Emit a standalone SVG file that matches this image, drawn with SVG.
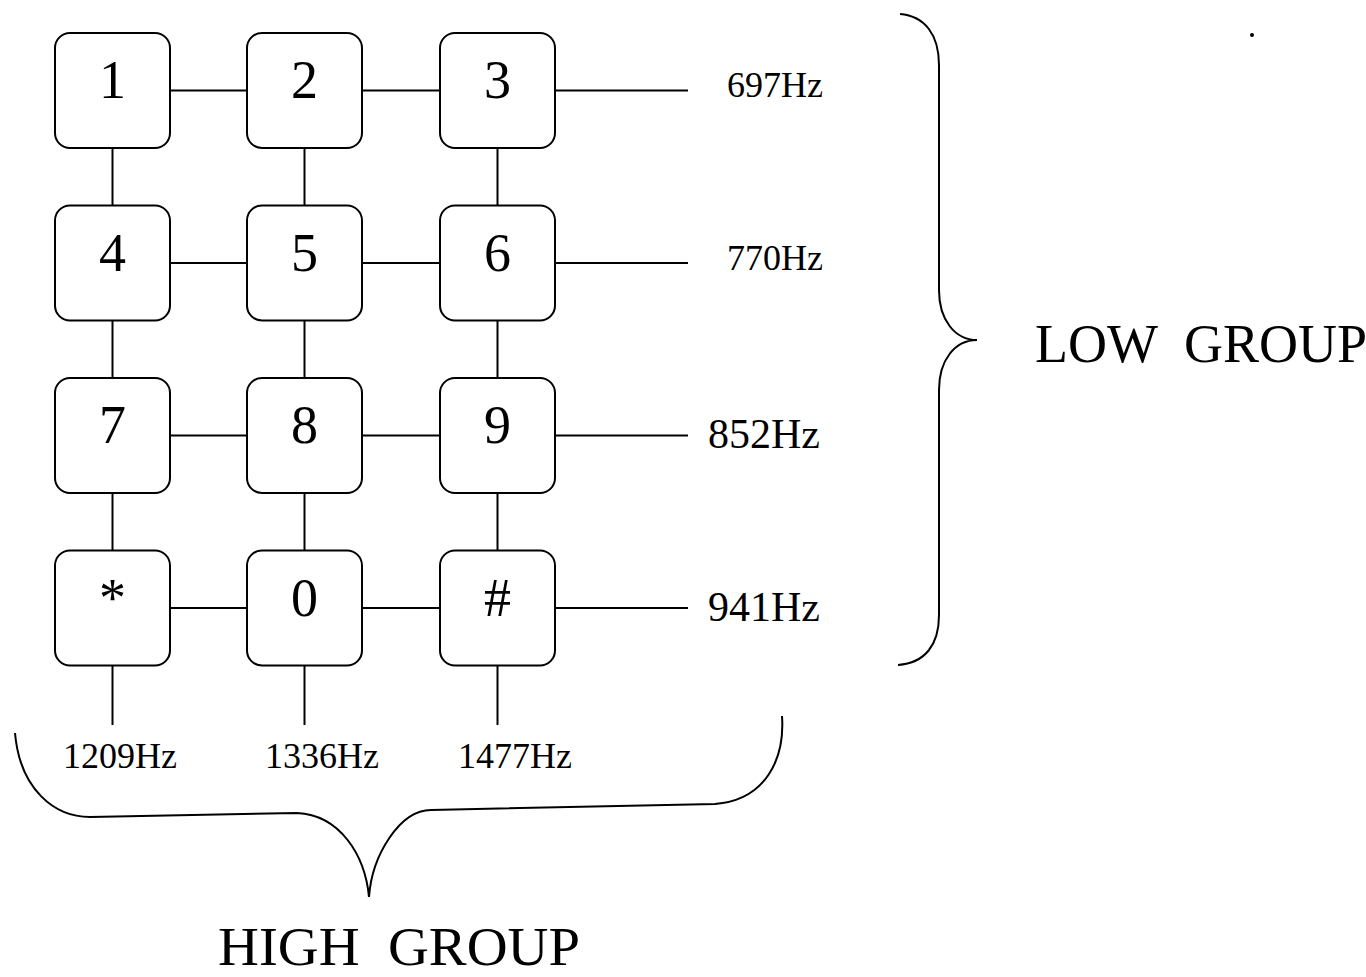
<svg xmlns="http://www.w3.org/2000/svg" width="1366" height="977" viewBox="0 0 1366 977">
<style>
.key rect{fill:#fff;stroke:#000;stroke-width:2}
.key text{font-family:"Liberation Serif","Times New Roman",serif;font-size:54px;text-anchor:middle;fill:#000}
.conn line,.conn path{stroke:#000;stroke-width:2;fill:none}
.lbl{font-family:"Liberation Serif","Times New Roman",serif;fill:#000;white-space:pre}
.s{font-size:36px}
.m{font-size:42px}
.l{font-size:54px}
</style>
<rect width="1366" height="977" fill="#fff"/>
<g id="connectors" class="conn">
<line x1="170" y1="90.5" x2="247" y2="90.5"/><line x1="362" y1="90.5" x2="440" y2="90.5"/><line x1="555" y1="90.5" x2="688" y2="90.5"/>
<line x1="170" y1="263" x2="247" y2="263"/><line x1="362" y1="263" x2="440" y2="263"/><line x1="555" y1="263" x2="688" y2="263"/>
<line x1="170" y1="435.5" x2="247" y2="435.5"/><line x1="362" y1="435.5" x2="440" y2="435.5"/><line x1="555" y1="435.5" x2="688" y2="435.5"/>
<line x1="170" y1="608" x2="247" y2="608"/><line x1="362" y1="608" x2="440" y2="608"/><line x1="555" y1="608" x2="688" y2="608"/>
<line x1="112.5" y1="148" x2="112.5" y2="205.5"/><line x1="304.5" y1="148" x2="304.5" y2="205.5"/><line x1="497.5" y1="148" x2="497.5" y2="205.5"/>
<line x1="112.5" y1="320.5" x2="112.5" y2="378"/><line x1="304.5" y1="320.5" x2="304.5" y2="378"/><line x1="497.5" y1="320.5" x2="497.5" y2="378"/>
<line x1="112.5" y1="493" x2="112.5" y2="550.5"/><line x1="304.5" y1="493" x2="304.5" y2="550.5"/><line x1="497.5" y1="493" x2="497.5" y2="550.5"/>
<line x1="112.5" y1="665.5" x2="112.5" y2="725"/><line x1="304.5" y1="665.5" x2="304.5" y2="725"/><line x1="497.5" y1="665.5" x2="497.5" y2="725"/>
</g>
<g id="key1" class="key"><rect x="55" y="33" width="115" height="115" rx="15"/><text x="112.5" y="98">1</text></g>
<g id="key2" class="key"><rect x="247" y="33" width="115" height="115" rx="15"/><text x="304.5" y="98">2</text></g>
<g id="key3" class="key"><rect x="440" y="33" width="115" height="115" rx="15"/><text x="497.5" y="98">3</text></g>
<g id="key4" class="key"><rect x="55" y="205.5" width="115" height="115" rx="15"/><text x="112.5" y="270.5">4</text></g>
<g id="key5" class="key"><rect x="247" y="205.5" width="115" height="115" rx="15"/><text x="304.5" y="270.5">5</text></g>
<g id="key6" class="key"><rect x="440" y="205.5" width="115" height="115" rx="15"/><text x="497.5" y="270.5">6</text></g>
<g id="key7" class="key"><rect x="55" y="378" width="115" height="115" rx="15"/><text x="112.5" y="443">7</text></g>
<g id="key8" class="key"><rect x="247" y="378" width="115" height="115" rx="15"/><text x="304.5" y="443">8</text></g>
<g id="key9" class="key"><rect x="440" y="378" width="115" height="115" rx="15"/><text x="497.5" y="443">9</text></g>
<g id="keystar" class="key"><rect x="55" y="550.5" width="115" height="115" rx="15"/><text x="112.5" y="616">*</text></g>
<g id="key0" class="key"><rect x="247" y="550.5" width="115" height="115" rx="15"/><text x="304.5" y="616">0</text></g>
<g id="keyhash" class="key"><rect x="440" y="550.5" width="115" height="115" rx="15"/><text x="497.5" y="616">#</text></g>
<g id="low-labels">
<text class="lbl s" x="727" y="97">697Hz</text>
<text class="lbl s" x="727" y="270">770Hz</text>
<text class="lbl m" x="708" y="448">852Hz</text>
<text class="lbl m" x="708" y="621">941Hz</text>
</g>
<g id="high-labels">
<text class="lbl s" x="63" y="768">1209Hz</text>
<text class="lbl s" x="265" y="768">1336Hz</text>
<text class="lbl s" x="458" y="768">1477Hz</text>
</g>
<g id="low-brace" class="conn">
<path d="M900,14 C925,16 939,35 939,65 L939,290 C939,320 955,340 977,340 C955,340 939,360 939,390 L939,615 C939,645 925,663 898,665"/>
</g>
<g id="high-brace" class="conn">
<path d="M15,733 C20,790 55,817 90,817 L297,813 C340,815 365,855 369,897 C372,855 400,810 431,810 L715,804 C765,800 785,760 782,716"/>
</g>
<text class="lbl l" x="1035" y="362" xml:space="preserve">LOW  GROUP</text>
<text class="lbl" x="218" y="965" style="font-size:54px" textLength="362" lengthAdjust="spacingAndGlyphs" xml:space="preserve">HIGH  GROUP</text>
<circle cx="1252" cy="35" r="2" fill="#000"/>
</svg>
